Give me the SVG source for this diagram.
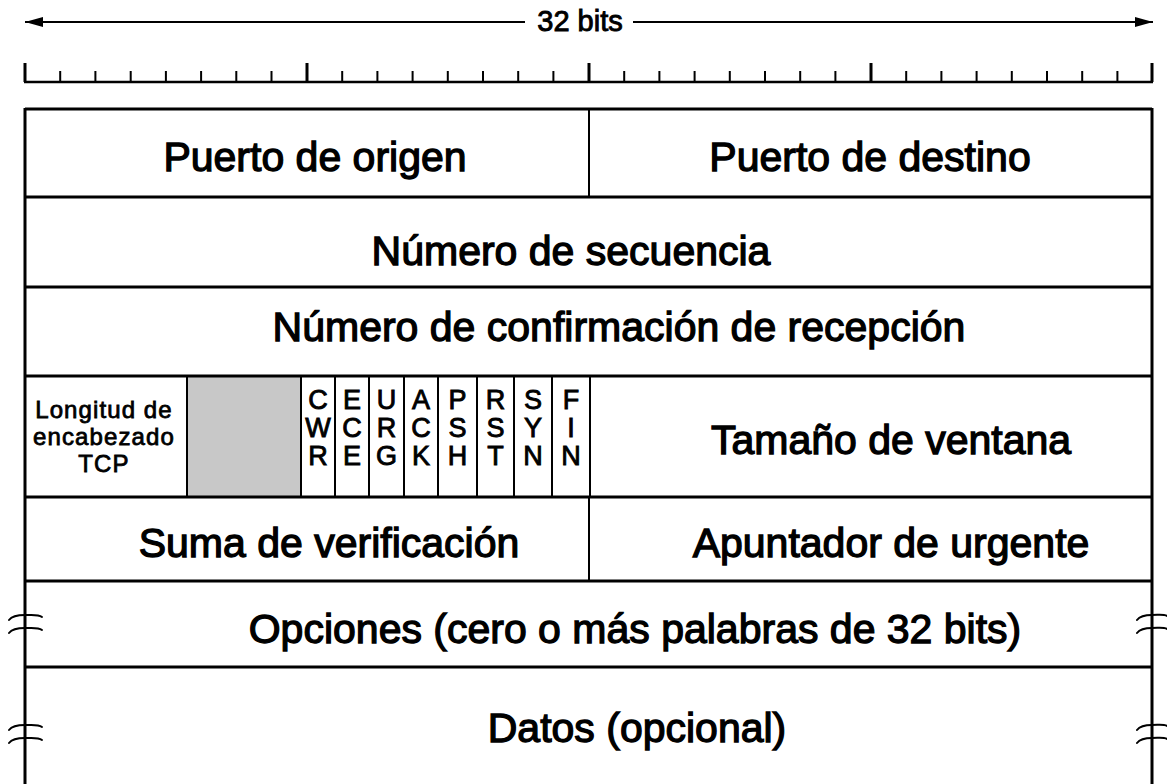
<svg xmlns="http://www.w3.org/2000/svg" width="1167" height="784" viewBox="0 0 1167 784">
<style>
.t{font-family:"Liberation Sans",Arial,sans-serif;fill:#000;stroke:#000;stroke-width:1.3;text-anchor:middle}
.big{font-size:41px}
.sm{font-size:27px;stroke-width:0.9}
.hl{font-size:24px;stroke-width:0.8;letter-spacing:1.1px}
.ln{stroke:#000;stroke-width:3;fill:none}
.thin{stroke:#000;stroke-width:2;fill:none}
.brk{stroke:#000;stroke-width:2;fill:none;stroke-linecap:round}
</style>
<defs>
<marker id="ah" viewBox="0 0 18 10" refX="18" refY="5" markerWidth="18" markerHeight="10" markerUnits="userSpaceOnUse" orient="auto">
<path d="M0,0 L18,5 L0,10 Z" fill="#000"/>
</marker>
</defs>
<rect width="1167" height="784" fill="#fff"/>
<g id="connectors">
<line x1="525" y1="22" x2="25" y2="22" class="thin" marker-end="url(#ah)"/>
<line x1="633" y1="22" x2="1153" y2="22" class="thin" marker-end="url(#ah)"/>
</g>
<text class="t" x="580" y="31" style="font-size:29px;stroke-width:0.9">32 bits</text>
<g id="ruler">
<line x1="24" y1="82" x2="1153" y2="82" stroke="#000" stroke-width="2.5"/>
<path class="ln" d="M25,63V82M307,63V82M589,63V82M871,63V82M1152,63V82"/>
<path class="thin" d="M60.2,71V82M95.4,71V82M130.7,71V82M165.9,71V82M201.1,71V82M236.3,71V82M271.5,71V82M342.2,71V82M377.4,71V82M412.6,71V82M447.8,71V82M483,71V82M518.2,71V82M553.4,71V82M624.2,71V82M659.4,71V82M694.6,71V82M729.8,71V82M765,71V82M800.2,71V82M835.4,71V82M906.2,71V82M941.4,71V82M976.6,71V82M1011.8,71V82M1047,71V82M1082.2,71V82M1117.4,71V82"/>
</g>
<g id="frame">
<rect x="188" y="377" width="113" height="119" fill="#c8c8c8"/>
<path class="ln" d="M25,109H1152M25,197H1152M25,287H1152M25,376H1152M25,497H1152M25,581H1152M25,667H1152M25,108V784M1152,108V784"/>
<path class="thin" d="M589,109V197M589,497V581M187,376V497M301,376V497M335,376V497M369,376V497M404,376V497M438,376V497M477,376V497M514,376V497M552,376V497M590,376V497"/>
</g>
<g id="breaks">
<path class="brk" d="M9,620C12,616 17,615 25,615C32,615 38,614 42,617"/>
<path class="brk" d="M9,633C12,629 17,628 25,628C32,628 38,627 42,630"/>
<path class="brk" d="M9,730C12,726 17,725 25,725C32,725 38,724 42,727"/>
<path class="brk" d="M9,743C12,739 17,738 25,738C32,738 38,737 42,740"/>
<path class="brk" d="M1137,620C1140,616 1145,615 1152,615C1159,615 1164,614 1167,616"/>
<path class="brk" d="M1137,633C1140,629 1145,628 1152,628C1159,628 1164,627 1167,629"/>
<path class="brk" d="M1137,730C1140,726 1145,725 1152,725C1159,725 1164,724 1167,726"/>
<path class="brk" d="M1137,743C1140,739 1145,738 1152,738C1159,738 1164,737 1167,739"/>
</g>
<g id="src-port"><text class="t big" x="315" y="171">Puerto de origen</text></g>
<g id="dst-port"><text class="t big" x="870" y="171">Puerto de destino</text></g>
<g id="seq"><text class="t big" x="571" y="265">Número de secuencia</text></g>
<g id="ack"><text class="t big" x="619" y="341">Número de confirmación de recepción</text></g>
<g id="hlen">
<text class="t hl" x="104" y="418">Longitud de</text>
<text class="t hl" x="104" y="445">encabezado</text>
<text class="t hl" x="104" y="472">TCP</text>
</g>
<g id="flags">
<text class="t sm" x="318" y="409">C</text><text class="t sm" x="318" y="437">W</text><text class="t sm" x="318" y="465">R</text>
<text class="t sm" x="352" y="409">E</text><text class="t sm" x="352" y="437">C</text><text class="t sm" x="352" y="465">E</text>
<text class="t sm" x="386.5" y="409">U</text><text class="t sm" x="386.5" y="437">R</text><text class="t sm" x="386.5" y="465">G</text>
<text class="t sm" x="421" y="409">A</text><text class="t sm" x="421" y="437">C</text><text class="t sm" x="421" y="465">K</text>
<text class="t sm" x="457.5" y="409">P</text><text class="t sm" x="457.5" y="437">S</text><text class="t sm" x="457.5" y="465">H</text>
<text class="t sm" x="495.5" y="409">R</text><text class="t sm" x="495.5" y="437">S</text><text class="t sm" x="495.5" y="465">T</text>
<text class="t sm" x="533" y="409">S</text><text class="t sm" x="533" y="437">Y</text><text class="t sm" x="533" y="465">N</text>
<text class="t sm" x="571" y="409">F</text><text class="t sm" x="571" y="437">I</text><text class="t sm" x="571" y="465">N</text>
</g>
<g id="window"><text class="t big" x="891" y="454">Tamaño de ventana</text></g>
<g id="checksum"><text class="t big" x="329" y="557">Suma de verificación</text></g>
<g id="urgent"><text class="t big" x="891" y="557">Apuntador de urgente</text></g>
<g id="options"><text class="t big" x="635" y="643">Opciones (cero o más palabras de 32 bits)</text></g>
<g id="data"><text class="t big" x="637" y="742">Datos (opcional)</text></g>
</svg>
